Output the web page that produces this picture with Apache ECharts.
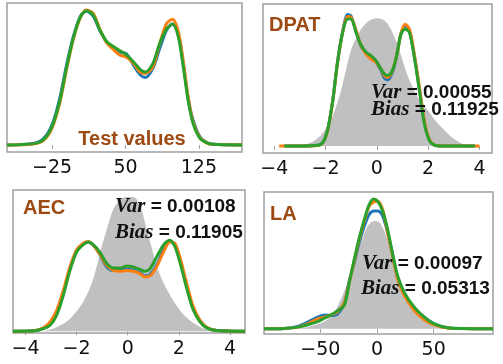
<!DOCTYPE html>
<html>
<head>
<meta charset="utf-8">
<script src="https://cdn.jsdelivr.net/npm/echarts@6/dist/echarts.min.js"></script>
<style>
  html, body { margin: 0; padding: 0; background: #fff; }
  #main { width: 503px; height: 364px; }
</style>
</head>
<body>
<div id="main"></div>
<script>
// 面板1 Test values
const testX = [-71, -44, -34, -25, -17, -10, -3, 4, 10, 17, 24, 31, 38, 44, 51, 58, 65, 70, 78, 85, 92, 98, 104, 109, 114, 119, 126, 133, 139, 169];
const testBlue = [0, 0.012, 0.045, 0.15, 0.35, 0.6, 0.81, 0.955, 0.99, 0.955, 0.845, 0.76, 0.72, 0.69, 0.675, 0.593, 0.52, 0.50, 0.568, 0.716, 0.852, 0.896, 0.827, 0.605, 0.345, 0.185, 0.06, 0.018, 0.005, 0];
const testOrange = [0, 0.008, 0.032, 0.125, 0.315, 0.565, 0.79, 0.945, 1.0, 0.975, 0.855, 0.755, 0.705, 0.667, 0.65, 0.605, 0.54, 0.53, 0.58, 0.753, 0.901, 0.931, 0.84, 0.617, 0.358, 0.17, 0.055, 0.016, 0.005, 0];
const testGreen = [0, 0.01, 0.037, 0.136, 0.33, 0.58, 0.80, 0.95, 0.995, 0.963, 0.85, 0.765, 0.728, 0.70, 0.667, 0.617, 0.56, 0.54, 0.605, 0.753, 0.86, 0.896, 0.80, 0.58, 0.33, 0.16, 0.05, 0.015, 0.005, 0];

// 面板2 DPAT
const dpatGreyX = [-2.96, -2.57, -2.18, -1.79, -1.40, -1.01, -0.62, -0.29, 0.03, 0.29, 0.55, 0.88, 1.2, 1.6, 1.99, 2.38, 2.9, 3.41, 3.67];
const dpatGrey = [0, 0.025, 0.08, 0.19, 0.41, 0.71, 0.865, 0.93, 0.946, 0.93, 0.865, 0.71, 0.52, 0.36, 0.265, 0.166, 0.068, 0.007, 0];
const dpatX = [-3.81, -3.61, -2.96, -2.31, -2.11, -1.92, -1.72, -1.53, -1.33, -1.14, -1.01, -0.81, -0.62, -0.42, -0.23, -0.03, 0.16, 0.29, 0.42, 0.55, 0.68, 0.81, 0.94, 1.1, 1.27, 1.46, 1.66, 1.85, 2.05, 2.24, 2.5, 3.83, 4.0];
const dpatBlue = [null, 0, 0, 0.005, 0.025, 0.12, 0.34, 0.63, 0.85, 0.975, 0.963, 0.85, 0.74, 0.69, 0.657, 0.62, 0.56, 0.505, 0.49, 0.52, 0.59, 0.705, 0.83, 0.89, 0.853, 0.67, 0.42, 0.18, 0.043, 0.007, 0, 0, null];
const dpatOrange = [0, 0, 0, 0.004, 0.022, 0.115, 0.33, 0.62, 0.845, 0.96, 0.955, 0.855, 0.745, 0.68, 0.644, 0.62, 0.57, 0.522, 0.51, 0.534, 0.6, 0.705, 0.835, 0.902, 0.865, 0.68, 0.436, 0.19, 0.046, 0.008, 0, 0, 0];
const dpatGreen = [null, 0, 0, 0.005, 0.025, 0.12, 0.335, 0.625, 0.845, 0.94, 0.94, 0.84, 0.75, 0.695, 0.67, 0.632, 0.571, 0.534, 0.522, 0.54, 0.6, 0.705, 0.83, 0.865, 0.84, 0.657, 0.41, 0.166, 0.04, 0.006, 0, 0, null];

// 面板3 AEC
const aecGreyX = [-3.30, -2.78, -2.26, -1.74, -1.35, -1.09, -0.82, -0.56, -0.30, -0.04, 0.22, 0.48, 0.74, 1.0, 1.26, 1.65, 2.04, 2.44, 2.96, 3.35];
const aecGrey = [0, 0.03, 0.094, 0.22, 0.39, 0.58, 0.76, 0.91, 0.98, 1.0, 1.0, 0.94, 0.76, 0.58, 0.42, 0.27, 0.156, 0.08, 0.02, 0];
const aecX = [-4.49, -3.69, -3.30, -3.04, -2.78, -2.52, -2.26, -2.0, -1.74, -1.54, -1.35, -1.09, -0.82, -0.56, -0.30, -0.04, 0.22, 0.48, 0.67, 0.87, 1.13, 1.39, 1.65, 1.85, 2.04, 2.31, 2.57, 2.83, 3.09, 3.48, 4.59];
const aecBlue = [0, 0.003, 0.022, 0.06, 0.135, 0.29, 0.47, 0.6, 0.65, 0.665, 0.64, 0.57, 0.479, 0.454, 0.454, 0.462, 0.454, 0.437, 0.412, 0.422, 0.491, 0.603, 0.67, 0.645, 0.54, 0.337, 0.169, 0.078, 0.028, 0.006, 0];
const aecOrange = [0, 0.004, 0.025, 0.07, 0.156, 0.305, 0.48, 0.605, 0.655, 0.668, 0.64, 0.575, 0.491, 0.454, 0.447, 0.452, 0.447, 0.429, 0.404, 0.412, 0.479, 0.586, 0.665, 0.653, 0.553, 0.355, 0.18, 0.082, 0.03, 0.006, 0];
const aecGreen = [0, 0.003, 0.02, 0.045, 0.12, 0.268, 0.454, 0.59, 0.645, 0.665, 0.645, 0.59, 0.504, 0.471, 0.471, 0.486, 0.479, 0.461, 0.447, 0.466, 0.553, 0.64, 0.677, 0.628, 0.516, 0.318, 0.156, 0.07, 0.025, 0.005, 0];

// 面板4 LA
const laGreyX = [-72.9, -58.2, -46.4, -37.6, -31.7, -25.8, -20, -14.1, -8.2, -2.3, 2.1, 6.5, 12.3, 18.2, 24.1, 32.9, 41.7, 53.5, 65.3];
const laGrey = [0, 0.02, 0.056, 0.128, 0.23, 0.357, 0.51, 0.663, 0.79, 0.83, 0.82, 0.75, 0.61, 0.43, 0.28, 0.166, 0.09, 0.026, 0];
const laX = [-99.6, -81.7, -69.9, -61.1, -52.3, -46.4, -40.6, -34.7, -28.8, -24.4, -20, -15.6, -11.2, -6.8, -2.9, 0.6, 5, 9.4, 13.8, 18.2, 24.1, 32.9, 41.7, 50.5, 62.3, 74, 102.3];
const laBlue = [0, 0.003, 0.018, 0.051, 0.089, 0.107, 0.102, 0.115, 0.2, 0.37, 0.51, 0.663, 0.79, 0.88, 0.906, 0.906, 0.867, 0.74, 0.574, 0.395, 0.268, 0.153, 0.09, 0.038, 0.008, 0.002, 0];
const laOrange = [0, 0.003, 0.013, 0.038, 0.077, 0.089, 0.107, 0.133, 0.2, 0.36, 0.523, 0.69, 0.83, 0.944, 0.977, 0.982, 0.918, 0.74, 0.56, 0.383, 0.255, 0.14, 0.07, 0.03, 0.006, 0.002, 0];
const laGreen = [0, 0.003, 0.013, 0.031, 0.056, 0.082, 0.107, 0.14, 0.18, 0.357, 0.536, 0.70, 0.84, 0.957, 1.0, 0.982, 0.906, 0.765, 0.574, 0.408, 0.28, 0.166, 0.09, 0.038, 0.008, 0.002, 0];

// 刻度
const testTicks = [-25, 50, 125];
const dpatTicks = [-4, -2, 0, 2, 4];
const aecTicks = [-4, -2, 0, 2, 4];
const laTicks = [-50, 0, 50];

const titles = ['Test values', 'DPAT', 'AEC', 'LA'];
const stats = [null, ['0.00055', '0.11925'], ['0.00108', '0.11905'], ['0.00097', '0.05313']];

const BLUE = '#1f77b4', ORANGE = '#ff7f0e', GREEN = '#2ca02c', GREY = '#c0c0c0';
const BROWN = '#9c4a12';

function pairs(xs, ys) {
  return xs.map((x, i) => [x, ys[i]]);
}

function curve(idx, xs, ys, color) {
  return {
    type: 'line', xAxisIndex: idx, yAxisIndex: idx,
    data: pairs(xs, ys), smooth: 0.3, symbol: 'none', connectNulls: false,
    lineStyle: { color: color, width: 3 }, z: 3
  };
}

function greyArea(idx, xs, ys) {
  return {
    type: 'line', xAxisIndex: idx, yAxisIndex: idx,
    data: pairs(xs, ys), smooth: 0.3, symbol: 'none',
    lineStyle: { width: 0 }, areaStyle: { color: GREY, opacity: 1 }, z: 2
  };
}

const grids = [
  { left: 7, top: 3, width: 235, height: 149 },
  { left: 263, top: 4, width: 229, height: 149 },
  { left: 13, top: 190, width: 232, height: 143 },
  { left: 264, top: 192, width: 229, height: 142 }
];
const xRanges = [[-71, 169], [-4.44, 4.49], [-4.49, 4.59], [-99.6, 102.3]];
const yRanges = [[-0.052, 1.052], [-0.052, 1.052], [-0.013, 1.052], [-0.04, 1.053]];
const tickSets = [testTicks, dpatTicks, aecTicks, laTicks];

const chart = echarts.init(document.getElementById('main'));

const option = {
  animation: false,
  backgroundColor: '#fff',
  grid: grids.map(g => Object.assign({ show: true, borderColor: '#a0a0a0', borderWidth: 1.5, backgroundColor: 'transparent' }, g)),
  xAxis: grids.map((g, i) => ({
    type: 'value', gridIndex: i, min: xRanges[i][0], max: xRanges[i][1],
    splitLine: { show: false },
    axisLine: { show: false },
    axisTick: { show: true, length: 4, lineStyle: { color: '#a0a0a0', width: 1 }, customValues: tickSets[i] },
    axisLabel: {
      customValues: tickSets[i], margin: 7,
      fontFamily: 'DejaVu Sans', fontSize: 19, color: '#111',
      formatter: v => String(v).replace('-', '\u2212')
    }
  })),
  yAxis: grids.map((g, i) => ({
    type: 'value', gridIndex: i, min: yRanges[i][0], max: yRanges[i][1], show: false
  })),
  series: [
    curve(0, testX, testBlue, BLUE),
    curve(0, testX, testOrange, ORANGE),
    curve(0, testX, testGreen, GREEN),
    greyArea(1, dpatGreyX, dpatGrey),
    curve(1, dpatX, dpatBlue, BLUE),
    curve(1, dpatX, dpatOrange, ORANGE),
    curve(1, dpatX, dpatGreen, GREEN),
    greyArea(2, aecGreyX, aecGrey),
    curve(2, aecX, aecBlue, BLUE),
    curve(2, aecX, aecOrange, ORANGE),
    curve(2, aecX, aecGreen, GREEN),
    greyArea(3, laGreyX, laGrey),
    curve(3, laX, laBlue, BLUE),
    curve(3, laX, laOrange, ORANGE),
    curve(3, laX, laGreen, GREEN)
  ]
};

// 标题文字位置
const titlePos = [[132, 139, 'center'], [269, 25, 'left'], [23, 208, 'left'], [270, 214, 'left']];
const statPos = [null, [[371, 93], [371, 110]], [[115, 207], [115, 233]], [[362, 264], [361, 289]]];

const richStyle = {
  it: { fontFamily: 'Liberation Serif', fontStyle: 'italic', fontWeight: 'bold', fontSize: 21, fill: '#111' }
};

const graphics = [];
titles.forEach((t, i) => {
  graphics.push({
    type: 'text', x: titlePos[i][0], y: titlePos[i][1], z: 100,
    style: {
      text: t, fill: BROWN, font: 'bold 20px "Liberation Sans", Arial, sans-serif',
      align: titlePos[i][2], verticalAlign: 'middle'
    }
  });
});
stats.forEach((s, i) => {
  if (!s) return;
  ['Var', 'Bias'].forEach((name, k) => {
    graphics.push({
      type: 'text', x: statPos[i][k][0], y: statPos[i][k][1], z: 100,
      style: {
        text: '{it|' + name + '} = ' + s[k],
        fill: '#111', font: 'bold 19px "Liberation Sans", Arial, sans-serif',
        align: 'left', verticalAlign: 'middle',
        rich: richStyle
      }
    });
  });
});
option.graphic = graphics;

chart.setOption(option);
</script>
</body>
</html>
